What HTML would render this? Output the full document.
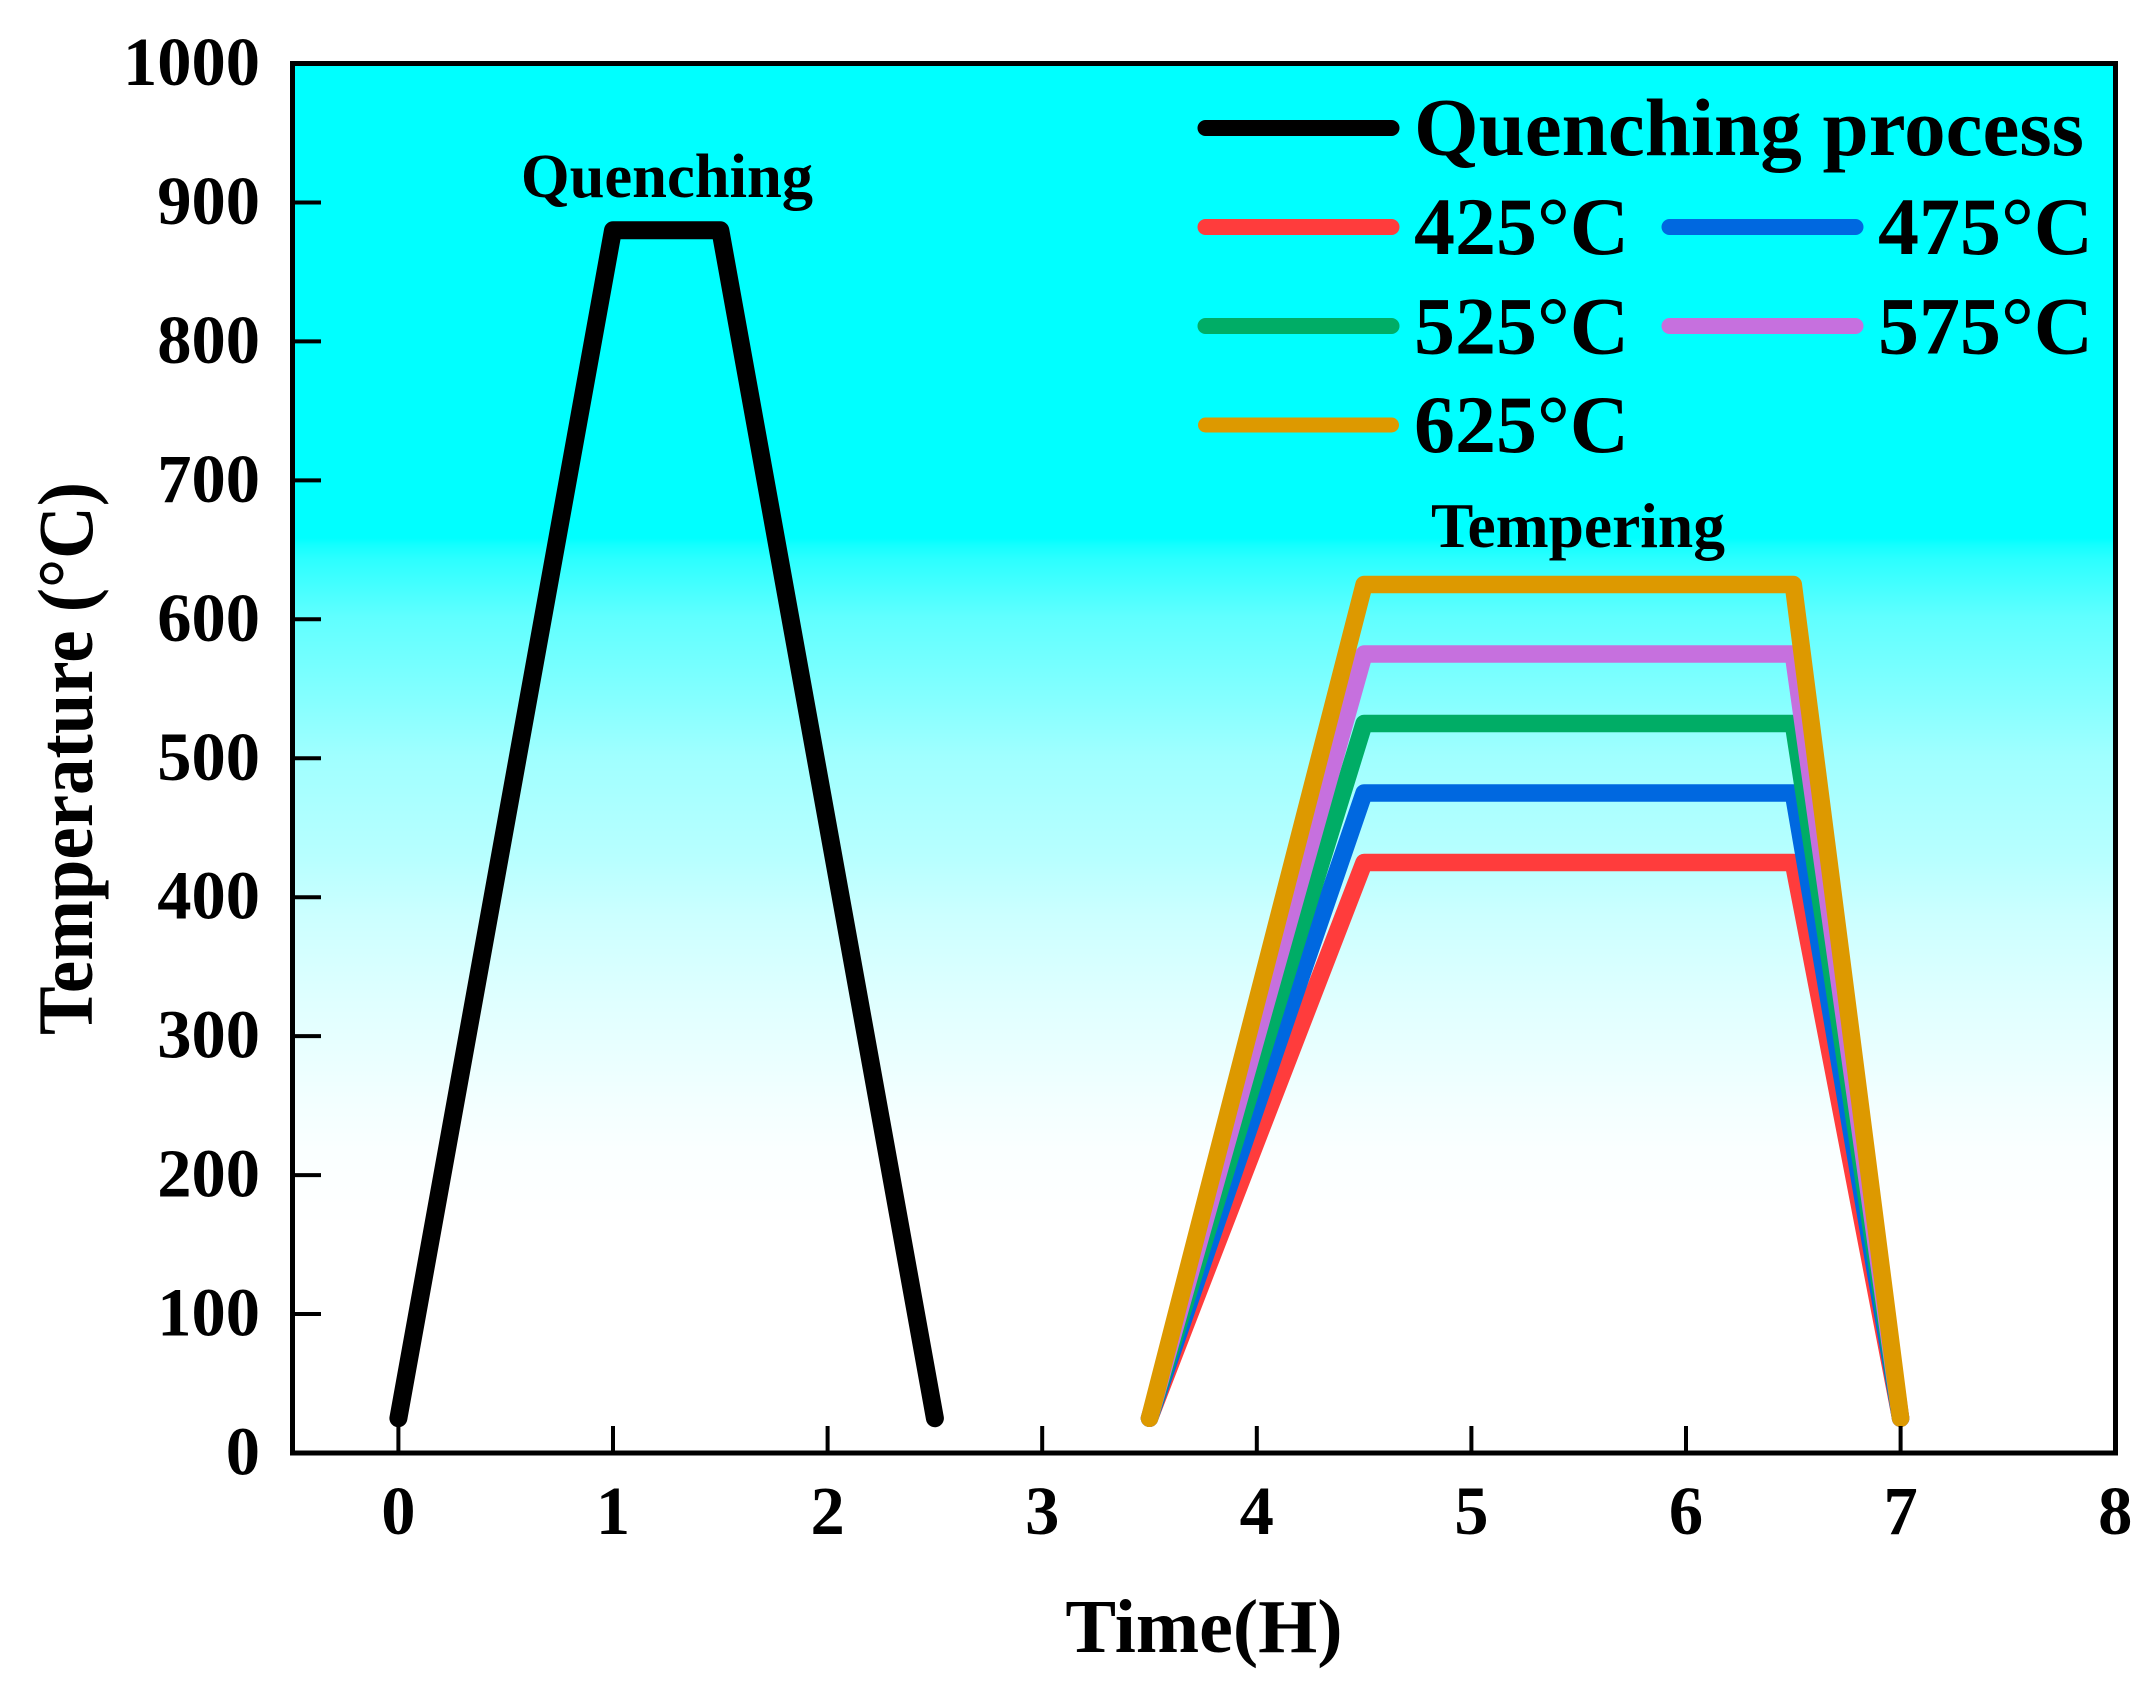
<!DOCTYPE html>
<html lang="en">
<head>
<meta charset="utf-8">
<title>Quenching and tempering process chart</title>
<style>
html,body{margin:0;padding:0;background:#fff;}
svg{display:block;font-family:"Liberation Serif",serif;font-weight:bold;fill:#000;}
</style>
</head>
<body>
<svg id="chart" xmlns="http://www.w3.org/2000/svg" width="2155" height="1691" viewBox="0 0 2155 1691">
  <defs>
    <linearGradient id="bg" gradientUnits="userSpaceOnUse" x1="0" y1="63" x2="0" y2="1453">
      <stop offset="0" stop-color="#00ffff"/>
      <stop offset="0.3417" stop-color="#00ffff"/>
      <stop offset="0.3468" stop-color="#14ffff"/>
      <stop offset="0.3576" stop-color="#2dffff"/>
      <stop offset="0.3986" stop-color="#60ffff"/>
      <stop offset="0.4583" stop-color="#85ffff"/>
      <stop offset="0.4993" stop-color="#a0ffff"/>
      <stop offset="0.5734" stop-color="#b8ffff"/>
      <stop offset="0.6144" stop-color="#ccffff"/>
      <stop offset="0.6741" stop-color="#dfffff"/>
      <stop offset="0.7460" stop-color="#f2ffff"/>
      <stop offset="0.7820" stop-color="#faffff"/>
      <stop offset="0.8360" stop-color="#ffffff"/>
      <stop offset="1" stop-color="#ffffff"/>
    </linearGradient>
  </defs>
  <rect x="292.5" y="63.5" width="1823" height="1389.5" fill="url(#bg)"/>
  <g id="series"></g>
  <g id="ticks"></g>
  <rect x="292.5" y="63.5" width="1823" height="1389.5" fill="none" stroke="#000" stroke-width="5"/>
  <g id="tick-labels"></g>
  <text x="1204" y="1652" font-size="76" text-anchor="middle">Time(H)</text>
  <text transform="translate(92,1035) rotate(-90)" font-size="78" textLength="553" lengthAdjust="spacingAndGlyphs">Temperature (°C)</text>
  <text x="667" y="197" font-size="62.6" text-anchor="middle">Quenching</text>
  <text x="1578" y="547" font-size="63.5" text-anchor="middle">Tempering</text>
  <g>
    <line x1="1205.5" y1="128" x2="1391.5" y2="128" stroke="#000" stroke-width="16" stroke-linecap="round"/>
    <text x="1414" y="155" font-size="82" textLength="670" lengthAdjust="spacingAndGlyphs">Quenching process</text>
    <line x1="1205.5" y1="227" x2="1391.5" y2="227" stroke="#ff3c3c" stroke-width="16" stroke-linecap="round"/>
    <text x="1414" y="254" font-size="82">425°C</text>
    <line x1="1669.5" y1="227" x2="1855.5" y2="227" stroke="#0068e0" stroke-width="16" stroke-linecap="round"/>
    <text x="1878" y="254" font-size="82">475°C</text>
    <line x1="1205.5" y1="326" x2="1391.5" y2="326" stroke="#00ad66" stroke-width="16" stroke-linecap="round"/>
    <text x="1414" y="353.5" font-size="82">525°C</text>
    <line x1="1669.5" y1="326" x2="1855.5" y2="326" stroke="#c670de" stroke-width="16" stroke-linecap="round"/>
    <text x="1878" y="353.5" font-size="82">575°C</text>
    <line x1="1205.5" y1="425" x2="1391.5" y2="425" stroke="#dd9900" stroke-width="15" stroke-linecap="round"/>
    <text x="1414" y="452" font-size="82">625°C</text>
  </g>
</svg>
<script>
var xTickValues = [0, 1, 2, 3, 4, 5, 6, 7, 8];
var yTickValues = [0, 100, 200, 300, 400, 500, 600, 700, 800, 900, 1000];
var quenchTime = [0, 1, 1.5, 2.5];
var quenchTemp = [25, 880, 880, 25];
var temperTime = [3.5, 4.5, 6.5, 7];
var temper425 = [25, 425, 425, 25];
var temper475 = [25, 475, 475, 25];
var temper525 = [25, 525, 525, 25];
var temper575 = [25, 575, 575, 25];
var temper625 = [25, 625, 625, 25];

var NS = 'http://www.w3.org/2000/svg';
function xPos(v) { return 398.4 + v * 214.6; }
function yPos(v) { return 1453 - v / 1000 * 1389.5; }
function pathFor(xs, ys) {
  return xs.map(function (x, i) {
    return (i ? 'L' : 'M') + xPos(x).toFixed(2) + ' ' + yPos(ys[i]).toFixed(2);
  }).join(' ');
}
function addSeries(xs, ys, color, width, name) {
  var p = document.createElementNS(NS, 'path');
  
  
  p.setAttribute('d', pathFor(xs, ys));
  p.setAttribute('fill', 'none');
  p.setAttribute('stroke', color);
  p.setAttribute('stroke-width', width);
  p.setAttribute('stroke-linecap', 'round');
  p.setAttribute('stroke-linejoin', 'round');
  document.getElementById('series').appendChild(p);
}
addSeries(quenchTime, quenchTemp, '#000000', 18, 'quenching-line');
addSeries(temperTime, temper425, '#ff3c3c', 17.5, 'tempering-line-425');
addSeries(temperTime, temper475, '#0068e0', 17.5, 'tempering-line-475');
addSeries(temperTime, temper525, '#00ad66', 17.5, 'tempering-line-525');
addSeries(temperTime, temper575, '#c670de', 17.5, 'tempering-line-575');
addSeries(temperTime, temper625, '#dd9900', 17.5, 'tempering-line-625');

var tickGroup = document.getElementById('ticks');
var labelGroup = document.getElementById('tick-labels');
xTickValues.forEach(function (v) {
  var l = document.createElementNS(NS, 'line');
  
  
  l.setAttribute('x1', xPos(v));
  l.setAttribute('x2', xPos(v));
  l.setAttribute('y1', 1453);
  l.setAttribute('y2', 1426);
  l.setAttribute('stroke', '#000');
  l.setAttribute('stroke-width', 4);
  tickGroup.appendChild(l);
  var t = document.createElementNS(NS, 'text');
  
  
  t.setAttribute('x', xPos(v));
  t.setAttribute('y', 1534);
  t.setAttribute('font-size', 68.5);
  t.setAttribute('text-anchor', 'middle');
  t.textContent = String(v);
  labelGroup.appendChild(t);
});
yTickValues.forEach(function (v) {
  var l = document.createElementNS(NS, 'line');
  
  
  l.setAttribute('x1', 292.5);
  l.setAttribute('x2', 321);
  l.setAttribute('y1', yPos(v));
  l.setAttribute('y2', yPos(v));
  l.setAttribute('stroke', '#000');
  l.setAttribute('stroke-width', 4);
  tickGroup.appendChild(l);
  var t = document.createElementNS(NS, 'text');
  
  
  t.setAttribute('x', 260);
  t.setAttribute('y', yPos(v) + 21.5);
  t.setAttribute('font-size', 68.5);
  t.setAttribute('text-anchor', 'end');
  t.textContent = String(v);
  labelGroup.appendChild(t);
});
</script>
</body>
</html>
